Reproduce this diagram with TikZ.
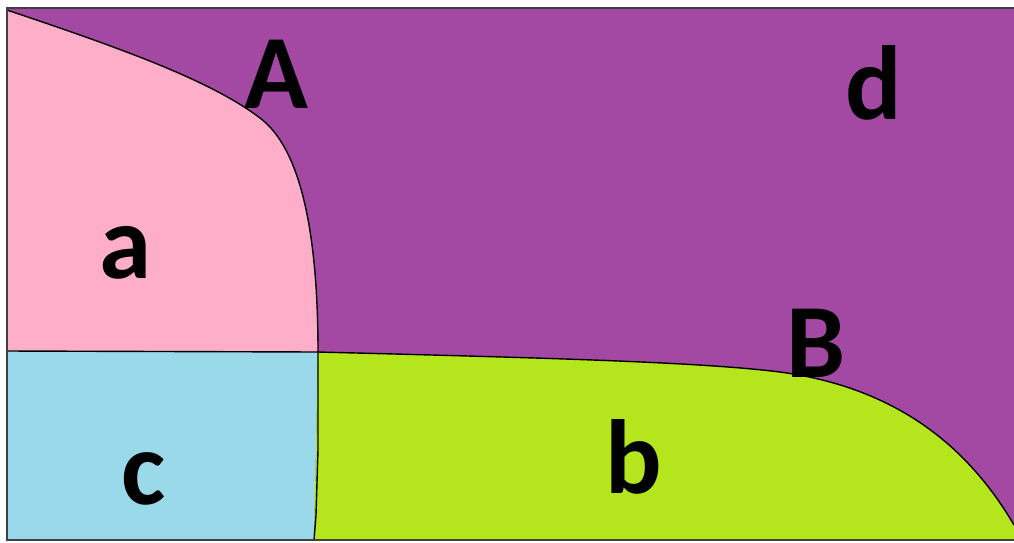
\documentclass[tikz,border=0pt]{standalone}
\usepackage{fontspec}
\setmainfont{Carlito}
\usepackage{tikz}
\definecolor{paintRose}{RGB}{255,174,201}
\definecolor{paintPurple}{RGB}{163,73,164}
\definecolor{paintBlue}{RGB}{153,217,234}
\definecolor{paintLime}{RGB}{181,230,29}

\begin{document}
\begin{tikzpicture}[
  x=0.02cm, y=-0.02cm,
  font=\bfseries\fontsize{60}{60}\selectfont,
  edge/.style={draw=black, line width=0.8pt},
  frame/.style={draw=black!75, line width=1.2pt},
  lbl/.style={inner sep=0pt, text=black},
]
\useasboundingbox (0,0) rectangle (1014,542);

% corners and junctions
\coordinate (tl) at (7,8);
\coordinate (tr) at (1014,8);
\coordinate (br) at (1014,540);
\coordinate (bl) at (7,540);
\coordinate (mid) at (318,352);
\coordinate (left) at (7,351);
\coordinate (foot) at (314,540);
\coordinate (edgeB) at (1014,525);

% regions
\fill[paintPurple] (tl) rectangle (br);
\fill[paintRose] (7,10) .. controls (120,48) and (210,80) .. (260,118)
  .. controls (300,148) and (318,230) .. (mid) -- (left) -- cycle;
\fill[paintBlue] (left) -- (mid) -- (foot) -- (bl) -- cycle;
\fill[paintLime] (mid) .. controls (550,358) and (700,362) .. (780,372)
  .. controls (900,388) and (970,450) .. (edgeB) -- (br) -- (foot) -- cycle;

% borders between regions
\draw[edge] (7,10) .. controls (120,48) and (210,80) .. (260,118)
  .. controls (300,148) and (318,230) .. (mid);
\draw[edge] (left) -- (mid);
\draw[edge] (mid) .. controls (550,358) and (700,362) .. (780,372)
  .. controls (900,388) and (970,450) .. (edgeB);
\draw[edge] (mid) -- (318,450) -- (316,515) -- (foot);
\draw[frame] (tr) -- (tl) -- (bl) -- (br);

\node[lbl] (ptA) at (276,74) {A};
\node[lbl] (ptB) at (816,343) {B};
\node[lbl] (ra) at (126,253) {a};
\node[lbl] (rb) at (634,457) {b};
\node[lbl] (rc) at (144,479) {c};
\node[lbl] (rd) at (874,83) {d};
\end{tikzpicture}
\end{document}
